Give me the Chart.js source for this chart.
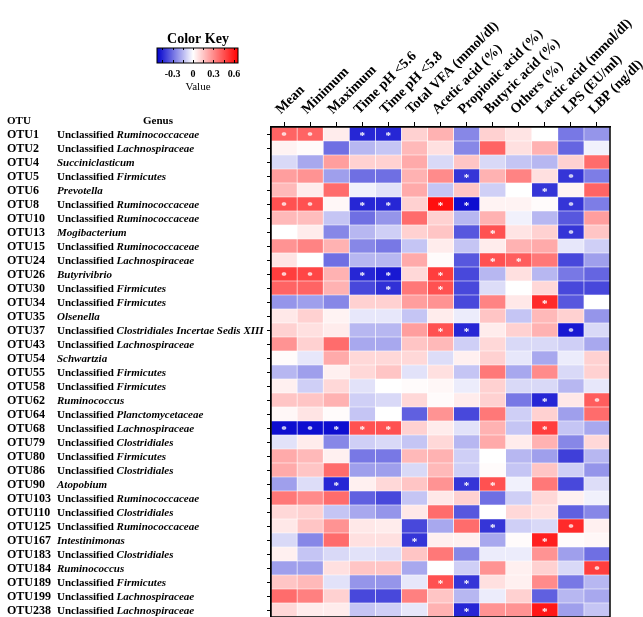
<!DOCTYPE html>
<html>
<head>
<meta charset="utf-8">
<script src="https://cdn.jsdelivr.net/npm/chart.js@4.4.1/dist/chart.umd.min.js"></script>
<style>
  body { margin: 0; background: #fff; }
  canvas { display: block; }
</style>
</head>
<body>
<canvas id="heatmap" width="643" height="617"></canvas>
<script>
const otus = ['OTU1','OTU2','OTU4','OTU5','OTU6','OTU8','OTU10','OTU13','OTU15','OTU24','OTU26','OTU30',
  'OTU34','OTU35','OTU37','OTU43','OTU54','OTU55','OTU58','OTU62','OTU64','OTU68','OTU79','OTU80','OTU86',
  'OTU90','OTU103','OTU110','OTU125','OTU167','OTU183','OTU184','OTU189','OTU199','OTU238'];

const genera = ['Unclassified Ruminococcaceae','Unclassified Lachnospiraceae','Succiniclasticum',
  'Unclassified Firmicutes','Prevotella','Unclassified Ruminococcaceae','Unclassified Ruminococcaceae',
  'Mogibacterium','Unclassified Ruminococcaceae','Unclassified Lachnospiraceae','Butyrivibrio',
  'Unclassified Firmicutes','Unclassified Firmicutes','Olsenella',
  'Unclassified Clostridiales Incertae Sedis XIII','Unclassified Lachnospiraceae','Schwartzia',
  'Unclassified Firmicutes','Unclassified Firmicutes','Ruminococcus','Unclassified Planctomycetaceae',
  'Unclassified Lachnospiraceae','Unclassified Clostridiales','Unclassified Firmicutes',
  'Unclassified Clostridiales','Atopobium','Unclassified Ruminococcaceae','Unclassified Clostridiales',
  'Unclassified Ruminococcaceae','Intestinimonas','Unclassified Clostridiales','Ruminococcus',
  'Unclassified Firmicutes','Unclassified Lachnospiraceae','Unclassified Lachnospiraceae'];

const columns = ['Mean','Minimum','Maximum','Time pH <5.6','Time pH <5.8','Total VFA (mmol/dl)',
  'Acetic acid (%)','Propionic acid (%)','Butyric acid (%)','Others (%)','Lactic acid (mmol/dl)',
  'LPS (EU/ml)','LBP (ng/dl)'];

// correlation per column, one value per OTU (same order as otus)
const mean      = [0.40,0.03,-0.08,0.25,0.18,0.45,0.18,0.00,0.28,0.07,0.50,0.40,-0.22,0.06,0.12,0.28,0.01,-0.15,0.04,0.15,0.02,-0.50,-0.06,0.22,0.22,-0.20,0.35,0.10,0.06,-0.08,0.04,-0.20,0.15,0.38,0.10];
const minimum   = [0.40,0.01,-0.18,0.28,0.05,0.45,0.17,0.05,0.32,0.00,0.48,0.40,-0.20,0.12,0.08,0.12,-0.05,-0.20,-0.10,0.15,0.07,-0.50,0.05,0.18,0.15,-0.07,0.30,0.12,0.15,-0.25,-0.12,-0.20,0.18,0.33,0.05];
const maximum   = [0.05,-0.30,0.25,-0.20,0.38,0.02,-0.12,-0.25,0.20,-0.30,0.20,0.20,-0.25,0.03,0.05,0.38,0.22,0.04,0.10,0.20,0.01,-0.50,-0.25,0.04,0.38,-0.45,0.38,-0.12,0.28,0.38,-0.08,0.08,-0.06,0.12,0.05];
const ph56      = [-0.45,-0.15,0.12,-0.30,-0.03,-0.45,-0.30,-0.15,-0.25,-0.15,-0.45,-0.38,0.12,-0.05,-0.15,-0.18,0.10,0.10,-0.06,-0.10,-0.12,0.45,-0.10,-0.28,-0.20,0.04,-0.33,-0.18,0.06,0.08,-0.06,0.15,-0.22,-0.38,-0.12];
const ph58      = [-0.45,-0.12,0.12,-0.30,-0.06,-0.45,-0.22,-0.10,-0.28,-0.15,-0.48,-0.43,0.12,-0.05,-0.15,-0.18,0.10,0.15,0.00,-0.08,0.00,0.45,-0.08,-0.28,-0.20,0.10,-0.38,-0.22,0.05,0.08,-0.07,0.15,-0.22,-0.38,-0.10];
const totalVfa  = [0.12,0.18,0.22,0.20,0.22,0.12,0.38,0.12,-0.12,0.22,0.10,0.35,0.25,-0.12,0.25,0.15,0.10,-0.06,0.01,0.10,-0.33,0.12,-0.12,0.18,-0.08,0.15,-0.12,0.06,-0.38,-0.42,0.15,-0.18,-0.05,0.33,-0.05];
const acetic    = [0.20,0.08,-0.08,0.30,-0.12,0.62,0.12,0.15,0.05,0.01,0.50,0.45,0.28,0.05,0.45,0.18,-0.07,0.08,0.02,0.01,0.28,0.05,0.10,0.20,0.18,0.28,0.06,0.38,-0.18,0.04,0.35,0.00,0.45,0.15,0.20];
const propionic = [-0.25,-0.25,0.15,-0.42,0.15,-0.50,-0.15,-0.35,-0.12,-0.35,-0.38,-0.38,-0.38,-0.04,-0.45,-0.10,0.04,-0.12,-0.04,0.05,-0.38,-0.06,-0.15,-0.10,-0.10,-0.42,0.12,-0.35,0.38,0.04,-0.25,-0.10,-0.42,-0.15,-0.45];
const butyric   = [0.12,0.40,-0.08,0.20,-0.10,0.03,0.20,0.45,0.05,0.45,-0.15,-0.07,0.32,0.15,0.05,0.10,0.12,0.35,0.12,0.12,0.35,0.20,0.22,0.00,0.01,0.45,-0.30,0.00,-0.42,-0.18,-0.04,0.28,0.08,-0.04,0.28];
const others    = [0.07,0.08,-0.12,0.32,0.00,0.03,-0.03,0.07,0.20,0.42,0.08,0.00,0.06,-0.12,0.12,-0.08,-0.05,-0.18,-0.08,-0.28,-0.10,-0.12,0.05,-0.15,-0.12,-0.03,-0.10,0.10,-0.10,0.01,-0.04,0.04,0.04,0.12,0.28];
const lactic    = [0.00,0.20,-0.15,0.08,-0.42,0.01,-0.15,0.12,0.22,0.35,-0.15,0.10,0.55,0.18,0.20,-0.08,-0.18,0.30,-0.08,-0.45,0.12,0.50,0.20,-0.20,0.15,0.35,0.10,0.08,-0.08,0.58,0.28,0.12,0.30,-0.33,0.60];
const lps       = [-0.28,-0.32,0.12,-0.42,0.03,-0.42,-0.35,-0.42,-0.05,-0.38,-0.28,-0.38,-0.35,0.12,-0.48,-0.10,-0.04,-0.08,-0.15,0.06,-0.20,-0.12,-0.25,-0.40,-0.10,-0.38,0.04,-0.33,0.55,0.01,-0.20,-0.08,-0.28,-0.15,-0.20];
const lbp       = [-0.22,-0.03,0.38,-0.27,0.40,-0.27,0.25,0.15,-0.10,-0.20,-0.32,-0.38,0.00,-0.22,-0.08,-0.18,0.12,0.12,-0.05,0.42,0.38,-0.18,0.10,-0.15,-0.22,-0.07,-0.03,-0.25,0.04,0.02,-0.30,0.50,-0.15,-0.18,-0.12];

const series = [mean, minimum, maximum, ph56, ph58, totalVfa, acetic, propionic, butyric, others, lactic, lps, lbp];

// cells marked with an asterisk
const starred = [
  ['OTU1','Mean'],['OTU1','Minimum'],['OTU1','Time pH <5.6'],['OTU1','Time pH <5.8'],
  ['OTU5','Propionic acid (%)'],['OTU5','LPS (EU/ml)'],
  ['OTU6','Lactic acid (mmol/dl)'],
  ['OTU8','Mean'],['OTU8','Minimum'],['OTU8','Time pH <5.6'],['OTU8','Time pH <5.8'],
  ['OTU8','Acetic acid (%)'],['OTU8','Propionic acid (%)'],['OTU8','LPS (EU/ml)'],
  ['OTU13','Butyric acid (%)'],['OTU13','LPS (EU/ml)'],
  ['OTU24','Butyric acid (%)'],['OTU24','Others (%)'],
  ['OTU26','Mean'],['OTU26','Minimum'],['OTU26','Time pH <5.6'],['OTU26','Time pH <5.8'],['OTU26','Acetic acid (%)'],
  ['OTU30','Time pH <5.8'],['OTU30','Acetic acid (%)'],
  ['OTU34','Lactic acid (mmol/dl)'],
  ['OTU37','Acetic acid (%)'],['OTU37','Propionic acid (%)'],['OTU37','LPS (EU/ml)'],
  ['OTU62','Lactic acid (mmol/dl)'],['OTU62','LBP (ng/dl)'],
  ['OTU68','Mean'],['OTU68','Minimum'],['OTU68','Maximum'],['OTU68','Time pH <5.6'],['OTU68','Time pH <5.8'],
  ['OTU68','Lactic acid (mmol/dl)'],
  ['OTU90','Maximum'],['OTU90','Propionic acid (%)'],['OTU90','Butyric acid (%)'],
  ['OTU125','Butyric acid (%)'],['OTU125','LPS (EU/ml)'],
  ['OTU167','Total VFA (mmol/dl)'],['OTU167','Lactic acid (mmol/dl)'],
  ['OTU184','LBP (ng/dl)'],
  ['OTU189','Acetic acid (%)'],['OTU189','Propionic acid (%)'],
  ['OTU238','Propionic acid (%)'],['OTU238','Lactic acid (mmol/dl)']
];

const keyTicks = [-0.3, 0, 0.3, 0.6];
const keyMin = -0.53, keyMax = 0.66;

const serif = '"Liberation Serif", "Times New Roman", serif';

function heatColor(v) {
  if (v >= 0) {
    const t = Math.min(v / keyMax, 1);
    const g = Math.round(255 * (1 - t));
    return 'rgb(255,' + g + ',' + g + ')';
  }
  const t = Math.min(v / keyMin, 1);
  const rg = Math.round(255 * (1 - t));
  const b = Math.round(255 - 50 * t);
  return 'rgb(' + rg + ',' + rg + ',' + b + ')';
}

const datasets = series.map(function (vals, c) {
  return {
    label: columns[c],
    xAxisID: 'x',
    yAxisID: 'y',
    data: vals.map(() => [c, c + 1]),
    backgroundColor: vals.map(heatColor),
    borderColor: '#ffffff',
    borderWidth: 0.6,
    borderSkipped: false,
    grouped: false,
    barPercentage: 1,
    categoryPercentage: 1
  };
});

const decorations = {
  id: 'decorations',
  afterDraw(chart) {
    const ctx = chart.ctx;
    const xs = chart.scales.x, ys = chart.scales.y;
    const area = chart.chartArea;
    ctx.save();

    // asterisks
    ctx.fillStyle = '#ffffff';
    ctx.font = 'bold 11px ' + serif;
    ctx.textAlign = 'center';
    ctx.textBaseline = 'middle';
    starred.forEach(function (s) {
      const i = otus.indexOf(s[0]), c = columns.indexOf(s[1]);
      ctx.fillText('*', xs.getPixelForValue(c + 0.5), ys.getPixelForValue(i) + 2);
    });

    // frame
    ctx.strokeStyle = '#000';
    ctx.lineWidth = 1.5;
    ctx.strokeRect(area.left, area.top, area.right - area.left, area.bottom - area.top);

    // row labels
    ctx.fillStyle = '#000';
    ctx.textAlign = 'left';
    ctx.textBaseline = 'middle';
    ctx.font = 'bold 11px ' + serif;
    ctx.fillText('OTU', 7, 121);
    ctx.textAlign = 'center';
    ctx.fillText('Genus', 158, 121);
    ctx.textAlign = 'left';
    otus.forEach(function (otu, i) {
      const py = ys.getPixelForValue(i) + 1;
      ctx.font = 'bold 12px ' + serif;
      ctx.fillText(otu, 7, py);
      let g = genera[i], x = 57;
      if (g.indexOf('Unclassified ') === 0) {
        ctx.font = 'bold 11px ' + serif;
        ctx.fillText('Unclassified ', x, py);
        x += ctx.measureText('Unclassified ').width;
        g = g.slice(13);
      }
      ctx.font = 'italic bold 11px ' + serif;
      ctx.fillText(g, x, py);
    });

    // colour key
    const kx = 157, kw = 81, ky = 48, kh = 15;
    const toX = v => kx + (v - keyMin) / (keyMax - keyMin) * kw;
    for (let px = 0; px < kw; px++) {
      ctx.fillStyle = heatColor(keyMin + (px + 0.5) / kw * (keyMax - keyMin));
      ctx.fillRect(kx + px, ky, 1, kh);
    }
    ctx.strokeStyle = '#000';
    ctx.lineWidth = 1;
    ctx.strokeRect(kx, ky, kw, kh);
    for (let v = -0.45; v < 0.65; v += 0.15) {
      const tx = Math.round(toX(v)) + 0.5;
      ctx.beginPath();
      ctx.moveTo(tx, ky + kh); ctx.lineTo(tx, ky + kh - 3);
      ctx.moveTo(tx, ky); ctx.lineTo(tx, ky + 2);
      ctx.stroke();
    }
    ctx.fillStyle = '#000';
    ctx.textAlign = 'center';
    ctx.font = 'bold 14px ' + serif;
    ctx.fillText('Color Key', 198, 39);
    ctx.font = 'bold 10px ' + serif;
    keyTicks.forEach(v => ctx.fillText(String(v), toX(v), 74));
    ctx.font = '11px ' + serif;
    ctx.fillText('Value', 198, 87);
    ctx.restore();
  }
};

new Chart(document.getElementById('heatmap'), {
  type: 'bar',
  data: { labels: otus, datasets: datasets },
  options: {
    indexAxis: 'y',
    responsive: false,
    animation: false,
    layout: { padding: { left: 0, top: 0, right: 33, bottom: 0 } },
    plugins: { legend: { display: false }, tooltip: { enabled: false } },
    scales: {
      x: { type: 'linear', min: 0, max: 13, display: false },
      x2: {
        type: 'category',
        position: 'top',
        labels: columns,
        offset: true,
        afterFit: s => { s.height = 127; s.paddingLeft = 0; s.paddingRight = 0; },
        grid: { drawOnChartArea: false, offset: false, tickLength: 5, color: '#000' },
        border: { color: '#000', width: 1.5 },
        ticks: {
          autoSkip: false, minRotation: 45, maxRotation: 45, padding: 4, labelOffset: 6,
          color: '#000', font: { family: serif, weight: 'bold', size: 14 }
        }
      },
      y: {
        type: 'category',
        offset: true,
        afterFit: s => { s.width = 271; s.paddingTop = 0; s.paddingBottom = 0; },
        grid: { drawOnChartArea: false, offset: false, tickLength: 4, color: '#000' },
        border: { color: '#000', width: 1.5 },
        ticks: { display: false }
      }
    }
  },
  plugins: [decorations]
});
</script>
</body>
</html>
